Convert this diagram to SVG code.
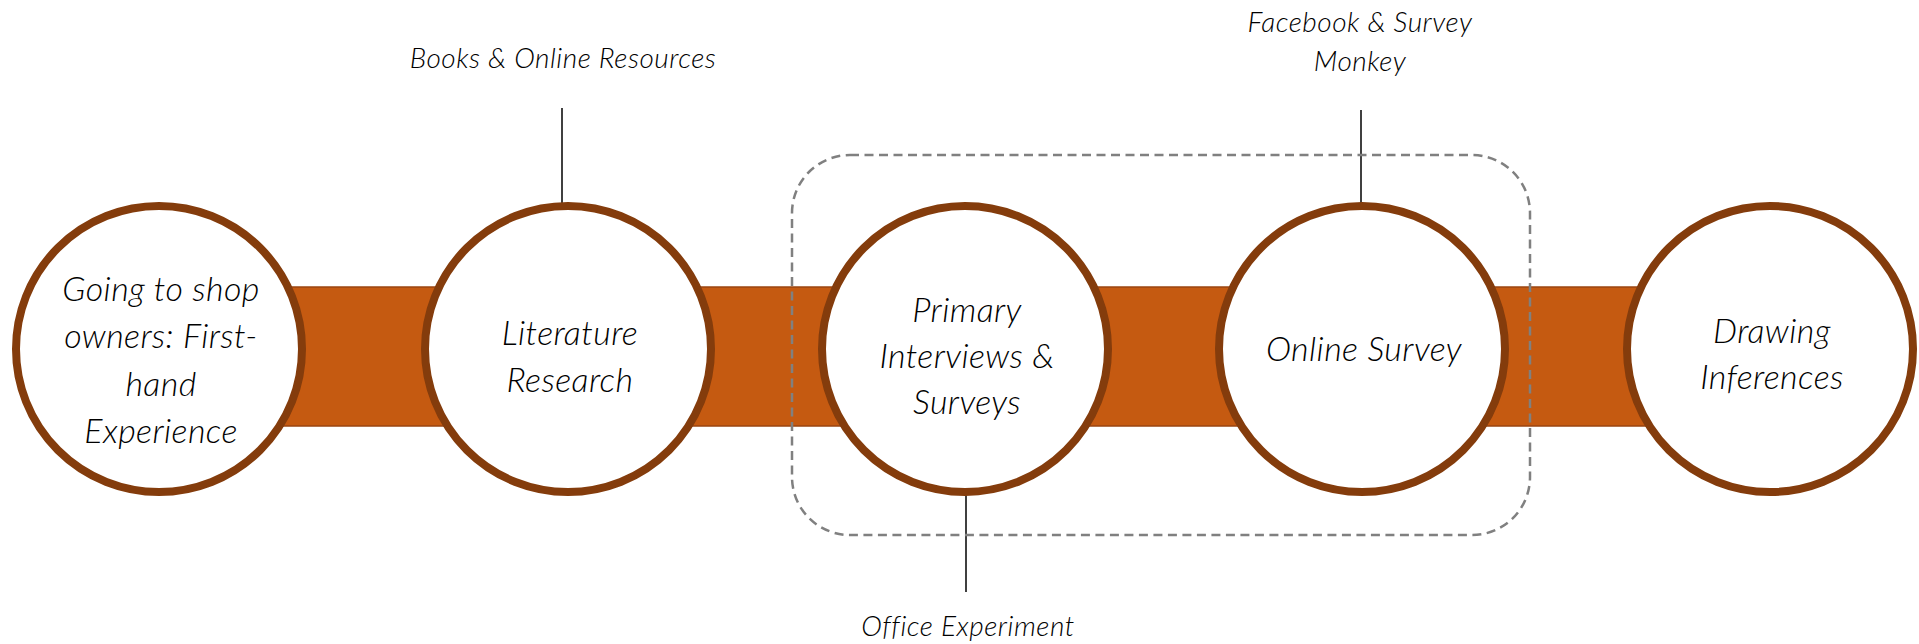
<svg xmlns="http://www.w3.org/2000/svg" width="1919" height="644" viewBox="0 0 1919 644">
<style>
.node{fill:#FFFFFF;stroke:#843C0C;stroke-width:8}
.band{fill:#C55A11;stroke:#9A4510;stroke-width:1.5}
.lead{stroke:#000000;stroke-width:1.5;fill:none}
.box{fill:none;stroke:#808080;stroke-width:2.5;stroke-dasharray:9 5.5}
.t{font-family:Lato,"Open Sans","Liberation Sans",sans-serif;font-style:italic;font-weight:300;fill:#000000;text-anchor:middle}
.main{font-size:34px;letter-spacing:0.4px}
.lab{font-size:28px;letter-spacing:0.5px}
</style>
<rect width="1919" height="644" fill="#FFFFFF"/>
<g id="connectors">
<rect class="band" x="159" y="287" width="1611" height="139"/>
<line class="lead" x1="562" y1="108" x2="562" y2="205"/>
<line class="lead" x1="1361" y1="110" x2="1361" y2="207"/>
<line class="lead" x1="966" y1="495" x2="966" y2="592"/>
</g>
<g id="group-box">
<rect class="box" x="792" y="155" width="738" height="380" rx="58" ry="58"/>
</g>
<g id="node-shop">
<circle class="node" cx="159" cy="349" r="143"/>
<text class="t main" x="161" y="301">Going to shop</text>
<text class="t main" x="161" y="348">owners: First-</text>
<text class="t main" x="161" y="395.5">hand</text>
<text class="t main" x="161" y="443">Experience</text>
</g>
<g id="node-literature">
<circle class="node" cx="568" cy="349" r="143"/>
<text class="t main" x="570" y="345">Literature</text>
<text class="t main" x="570" y="392">Research</text>
</g>
<g id="node-primary">
<circle class="node" cx="965" cy="349" r="143"/>
<text class="t main" x="967" y="322">Primary</text>
<text class="t main" x="967" y="368">Interviews &amp;</text>
<text class="t main" x="967" y="414">Surveys</text>
</g>
<g id="node-online">
<circle class="node" cx="1362" cy="349" r="143"/>
<text class="t main" x="1364" y="361">Online Survey</text>
</g>
<g id="node-inferences">
<circle class="node" cx="1770" cy="349" r="143"/>
<text class="t main" x="1772" y="343">Drawing</text>
<text class="t main" x="1772" y="389">Inferences</text>
</g>
<g id="label-books">
<text class="t lab" x="563" y="68">Books &amp; Online Resources</text>
</g>
<g id="label-facebook">
<text class="t lab" x="1360" y="32">Facebook &amp; Survey</text>
<text class="t lab" x="1360" y="71">Monkey</text>
</g>
<g id="label-office">
<text class="t lab" x="968" y="636">Office Experiment</text>
</g>
</svg>
